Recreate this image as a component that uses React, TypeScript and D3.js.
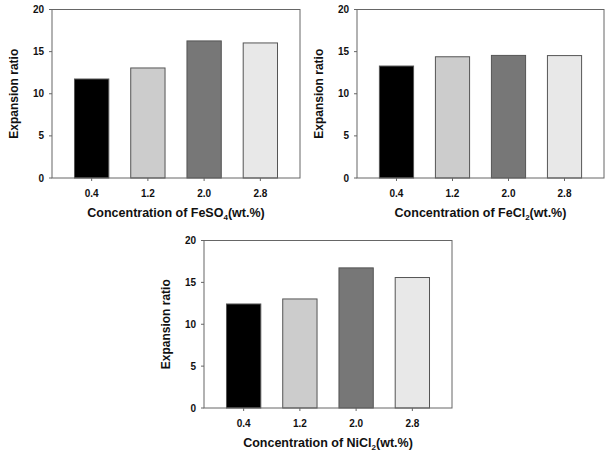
import React from "react";
import * as d3 from "d3";

// concentrations (wt.%)
const CONC = ["0.4", "1.2", "2.0", "2.8"];
const FESO4 = [11.75, 13.06, 16.27, 16.03];
const FECL2 = [13.29, 14.39, 14.55, 14.53];
const NICL2 = [12.42, 13.02, 16.73, 15.58];
const Y_TICKS = [0, 5, 10, 15, 20];

const BAR_FILL = ["#000000", "#cccccc", "#777777", "#e8e8e8"];
const FONT = "'Liberation Sans', Arial, Helvetica, sans-serif";

type PanelProps = {
  x0: number; x1: number; y0: number; y1: number;
  values: number[];
  salt: string; sub: string;
};

function Panel({ x0, x1, y0, y1, values, salt, sub }: PanelProps) {
  const x = d3.scaleBand().domain(CONC).range([x0, x1]).paddingInner(0.39).paddingOuter(0.4);
  const y = d3.scaleLinear().domain([0, 20]).range([y1, y0]);
  const cx = (x0 + x1) / 2;
  const cy = (y0 + y1) / 2;

  return (
    <g fontFamily={FONT} fontWeight="bold" fill="#111">
      {/* bars */}
      {CONC.map((c, i) => (
        <rect key={c}
          x={x(c)} y={y(values[i])}
          width={x.bandwidth()} height={y(0) - y(values[i])}
          fill={BAR_FILL[i]} stroke="#555" strokeWidth={1} />
      ))}

      {/* frame */}
      <rect x={x0} y={y0} width={x1 - x0} height={y1 - y0} fill="none" stroke="#666" strokeWidth={1} />

      {/* y ticks */}
      {Y_TICKS.map(t => (
        <g key={t}>
          <line x1={x0 - 3} x2={x0} y1={y(t)} y2={y(t)} stroke="#666" />
          <text x={x0 - 8} y={y(t)} dy="0.35em" textAnchor="end" fontSize={10}>{t}</text>
        </g>
      ))}

      {/* x ticks */}
      {CONC.map(c => {
        const px = (x(c) ?? 0) + x.bandwidth() / 2;
        return (
          <g key={c}>
            <line x1={px} x2={px} y1={y1} y2={y1 + 3} stroke="#666" />
            <text x={px} y={y1 + 19} textAnchor="middle" fontSize={10}>{c}</text>
          </g>
        );
      })}

      <text transform={`translate(${x0 - 34},${cy}) rotate(-90)`} textAnchor="middle" fontSize={12}>
        Expansion ratio
      </text>
      <text x={cx} y={y1 + 39} textAnchor="middle" fontSize={12.5}>
        Concentration of {salt}<tspan fontSize={8} dy={3}>{sub}</tspan><tspan dy={-3}>(wt.%)</tspan>
      </text>
    </g>
  );
}

export default function App() {
  return (
    <svg width={607} height={453} style={{ position: "absolute", left: 0, top: 0, background: "#fff" }}>
      <Panel x0={52} x1={300} y0={9.5} y1={178} values={FESO4} salt="FeSO" sub="4" />
      <Panel x0={357} x1={604} y0={9.5} y1={178} values={FECL2} salt="FeCl" sub="2" />
      <Panel x0={204} x1={452} y0={240.5} y1={408} values={NICL2} salt="NiCl" sub="2" />
    </svg>
  );
}
